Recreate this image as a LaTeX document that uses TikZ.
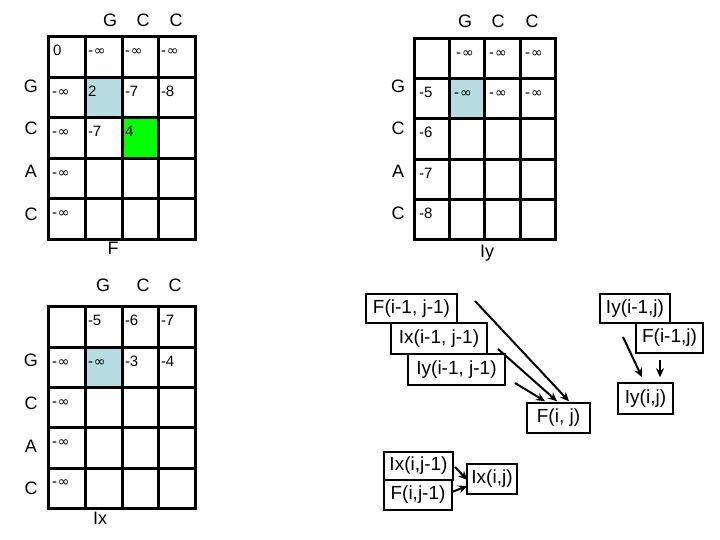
\documentclass[tikz,border=0pt]{standalone}
\usepackage{fontspec}
\setmainfont{Liberation Sans}
\newfontfamily\infFont{DejaVu Sans}
\usetikzlibrary{arrows.meta}

\newcommand{\minf}{-\kern1pt{\infFont\fontsize{14}{16}\selectfont ∞}}

\begin{document}
\begin{tikzpicture}[x=1pt,y=1pt,
  cellText/.style={text=drawColor,anchor=base west,inner sep=0pt,outer sep=0pt,font=\fontsize{15}{17}\selectfont},
  seqLabel/.style={text=drawColor,anchor=base,inner sep=0pt,outer sep=0pt,font=\fontsize{18}{20}\selectfont},
  recBox/.style={draw=drawColor,fill=fillColor,line width=1.5pt,inner sep=0pt,font=\fontsize{19}{21}\selectfont},
  recArrow/.style={draw=drawColor,line width=2pt,-{Stealth[length=9pt,width=8pt]}}]
\definecolor{fillColor}{RGB}{255,255,255}
\definecolor{drawColor}{RGB}{0,0,0}
\definecolor{cellBlue}{RGB}{183,221,226}
\definecolor{cellGreen}{RGB}{0,255,0}
\path[use as bounding box,fill=fillColor] (0,0) rectangle (720,540);

% matrix F
\begin{scope}
\path[fill=cellBlue] ( 85,462) rectangle (122,422);
\path[fill=cellGreen] (122,422) rectangle (158,381);

\path[draw=drawColor,line width=3pt] ( 48,503) rectangle (195,300);
\path[draw=drawColor,line width=3pt] ( 85,503) -- ( 85,300) (122,503) -- (122,300) (158,503) -- (158,300);
\path[draw=drawColor,line width=3pt] ( 48,462) -- (195,462) ( 48,422) -- (195,422) ( 48,381) -- (195,381) ( 48,341) -- (195,341);

\node[seqLabel] (fColG) at (110,513) {G};
\node[seqLabel] (fColC1) at (143,513) {C};
\node[seqLabel] (fColC2) at (176,513) {C};

\node[seqLabel] (fRowG) at ( 31,447) {G};
\node[seqLabel] (fRowC1) at ( 31,405) {C};
\node[seqLabel] (fRowA) at ( 31,362) {A};
\node[seqLabel] (fRowC2) at ( 31,319) {C};

\node[cellText] (f00) at ( 53,484) {0};
\node[cellText] (f01) at ( 88,484) {\minf};
\node[cellText] (f02) at (125,484) {\minf};
\node[cellText] (f03) at (161,484) {\minf};
\node[cellText] (f10) at ( 52,443) {\minf};
\node[cellText] (f11) at ( 88,443) {2};
\node[cellText] (f12) at (125,443) {-7};
\node[cellText] (f13) at (161,443) {-8};
\node[cellText] (f20) at ( 52,403) {\minf};
\node[cellText] (f21) at ( 88,403) {-7};
\node[cellText] (f22) at (125,403) {4};
\node[cellText] (f30) at ( 52,362) {\minf};
\node[cellText] (f40) at ( 52,322) {\minf};

\node[seqLabel] (fName) at (113,285) {F};
\end{scope}

% matrix Iy
\begin{scope}
\path[fill=cellBlue] (449,461) rectangle (484,421);

\path[draw=drawColor,line width=3pt] (414,501) rectangle (555,300);
\path[draw=drawColor,line width=3pt] (449,501) -- (449,300) (484,501) -- (484,300) (520,501) -- (520,300);
\path[draw=drawColor,line width=3pt] (414,461) -- (555,461) (414,421) -- (555,421) (414,380) -- (555,380) (414,340) -- (555,340);

\node[seqLabel] (iyColG) at (465,512) {G};
\node[seqLabel] (iyColC1) at (498,512) {C};
\node[seqLabel] (iyColC2) at (532,512) {C};

\node[seqLabel] (iyRowG) at (398,447) {G};
\node[seqLabel] (iyRowC1) at (398,405) {C};
\node[seqLabel] (iyRowA) at (398,362) {A};
\node[seqLabel] (iyRowC2) at (398,320) {C};

\node[cellText] (iy01) at (456,482) {\minf};
\node[cellText] (iy02) at (489,482) {\minf};
\node[cellText] (iy03) at (525,482) {\minf};
\node[cellText] (iy10) at (419,442) {-5};
\node[cellText] (iy11) at (454,442) {\minf};
\node[cellText] (iy12) at (489,442) {\minf};
\node[cellText] (iy13) at (525,442) {\minf};
\node[cellText] (iy20) at (419,402) {-6};
\node[cellText] (iy30) at (419,361) {-7};
\node[cellText] (iy40) at (419,321) {-8};

\node[seqLabel] (iyName) at (487,282) {Iy};
\end{scope}

% matrix Ix
\begin{scope}
\path[fill=cellBlue] ( 85,192) rectangle (122,152);

\path[draw=drawColor,line width=3pt] ( 48,233) rectangle (195, 31);
\path[draw=drawColor,line width=3pt] ( 85,233) -- ( 85, 31) (122,233) -- (122, 31) (158,233) -- (158, 31);
\path[draw=drawColor,line width=3pt] ( 48,192) -- (195,192) ( 48,152) -- (195,152) ( 48,112) -- (195,112) ( 48, 71) -- (195, 71);

\node[seqLabel] (ixColG) at (103,248) {G};
\node[seqLabel] (ixColC1) at (143,248) {C};
\node[seqLabel] (ixColC2) at (175,248) {C};

\node[seqLabel] (ixRowG) at ( 31,173) {G};
\node[seqLabel] (ixRowC1) at ( 31,130) {C};
\node[seqLabel] (ixRowA) at ( 31, 87) {A};
\node[seqLabel] (ixRowC2) at ( 31, 45) {C};

\node[cellText] (ix01) at ( 88,214) {-5};
\node[cellText] (ix02) at (125,214) {-6};
\node[cellText] (ix03) at (161,214) {-7};
\node[cellText] (ix10) at ( 52,173) {\minf};
\node[cellText] (ix11) at ( 88,173) {\minf};
\node[cellText] (ix12) at (125,173) {-3};
\node[cellText] (ix13) at (161,173) {-4};
\node[cellText] (ix20) at ( 52,133) {\minf};
\node[cellText] (ix30) at ( 52, 93) {\minf};
\node[cellText] (ix40) at ( 52, 53) {\minf};

\node[seqLabel] (ixName) at (100, 15) {Ix};
\end{scope}

% recurrences
\node[recBox,minimum width=91,minimum height=29] (fDiag) at (411.5,231.5) {F(i-1, j-1)};
\node[recBox,minimum width=96,minimum height=31] (ixDiag) at (439,201.5) {Ix(i-1, j-1)};
\node[recBox,minimum width=97,minimum height=31] (iyDiag) at (456.5,170.5) {Iy(i-1, j-1)};
\node[recBox,minimum width=63,minimum height=30] (fCur) at (558.5,122) {F(i, j)};

\node[recBox,minimum width=70,minimum height=29] (iyUp) at (635,231.5) {Iy(i-1,j)};
\node[recBox,minimum width=67,minimum height=30] (fUp) at (669.5,202) {F(i-1,j)};
\node[recBox,minimum width=55,minimum height=31] (iyCur) at (645.5,141.5) {Iy(i,j)};

\node[recBox,minimum width=69,minimum height=28] (ixLeft) at (418.5,74) {Ix(i,j-1)};
\node[recBox,minimum width=68,minimum height=30] (fLeft) at (418,45) {F(i,j-1)};
\node[recBox,minimum width=50,minimum height=30] (ixCur) at (492,61) {Ix(i,j)};

\coordinate (fDiagTail) at (475,239);
\coordinate (ixDiagTail) at (498,191);
\coordinate (iyDiagTail) at (515,157);
\coordinate (iyUpTail) at (623,203);
\coordinate (fUpTail) at (660,180);
\coordinate (ixLeftTail) at (455,73);
\coordinate (fLeftTail) at (452,48);

\draw[recArrow] (fDiagTail) -- ([xshift=10.5,yshift=1]fCur.north);
\draw[recArrow] (ixDiagTail) -- ([xshift=-1.5,yshift=1]fCur.north);
\draw[recArrow] (iyDiagTail) -- ([xshift=-13.5,yshift=1]fCur.north);
\draw[recArrow] (iyUpTail) -- ([xshift=-3.5,yshift=5]iyCur.north);
\draw[recArrow] (fUpTail) -- ([xshift=14.5,yshift=5]iyCur.north);
\draw[recArrow] (ixLeftTail) -- ([xshift=1,yshift=-1]ixCur.west);
\draw[recArrow] (fLeftTail) -- ([xshift=1,yshift=-7]ixCur.west);
\end{tikzpicture}
\end{document}
